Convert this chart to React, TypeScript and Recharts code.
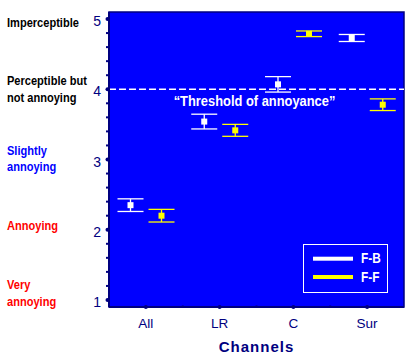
import React from 'react';
import { ComposedChart, Bar, ErrorBar, XAxis, YAxis, CartesianGrid, ReferenceLine, ReferenceArea, Legend } from 'recharts';

const channels = ['All', 'LR', 'C', 'Sur'];
const fbMean = [2.35, 3.54, 4.07, 4.73];
const fbErr = [0.09, 0.105, 0.11, 0.05];
const ffMean = [2.2, 3.415, 4.79, 3.78];
const ffErr = [0.09, 0.085, 0.04, 0.083];
const yTicks = [1, 1.2, 1.4, 1.6, 1.8, 2, 2.2, 2.4, 2.6, 2.8, 3, 3.2, 3.4, 3.6, 3.8, 4, 4.2, 4.4, 4.6, 4.8, 5];
const scaleLabels: Record<number, string[]> = {
  5: ['Imperceptible'],
  4: ['Perceptible but', 'not annoying'],
  3: ['Slightly', 'annoying'],
  2: ['Annoying'],
  1: ['Very', 'annoying'],
};
const seriesNames = ['F-B', 'F-F'];
const thresholdText = '\u201CThreshold of annoyance\u201D';

const data = channels.map((c, i) => ({ channel: c, fb: fbMean[i], fbErr: fbErr[i], ff: ffMean[i], ffErr: ffErr[i] }));

const NAVY = '#000080';
const labelColor: Record<number, string> = { 5: '#000000', 4: '#000000', 3: '#0000ff', 2: '#ff0000', 1: '#ff0000' };
const labelDy: Record<number, number[]> = { 5: [7.7], 4: [-3.8, 12.8], 3: [-5, 11.7], 2: [0], 1: [-10.7, 6] };
const FONT = 'Arial, "Liberation Sans", sans-serif';

const YTick = (props: any) => {
  const { x, y, payload } = props;
  const v = payload.value;
  const isMajor = Math.abs(v - Math.round(v)) < 1e-6;
  if (!isMajor) {
    return <rect x={x - 3} y={y - 1} width={3} height={2} fill={NAVY} />;
  }
  const key = Math.round(v);
  const lines = scaleLabels[key] || [];
  return (
    <g>
      <circle cx={x - 1.5} cy={y} r={2} fill={NAVY} />
      <text x={x - 8} y={y + 7} textAnchor="end" fontFamily={FONT} fontSize={14} fill={NAVY}>{key}</text>
      {lines.map((l, i) => (
        <text key={i} transform={`translate(7, ${y + labelDy[key][i]}) scale(0.82, 1)`} fontFamily={FONT} fontWeight="bold" fontSize={13.5} fill={labelColor[key]}>{l}</text>
      ))}
    </g>
  );
};

const XTick = (props: any) => {
  const { x, y, payload, index } = props;
  const half = payload.offset || 36.9;
  return (
    <g>
      <circle cx={x} cy={y} r={2} fill={NAVY} />
      {index < channels.length - 1 && <rect x={x + half - 1} y={y - 1.5} width={2} height={2} fill={NAVY} />}
      <text x={x} y={y + 20.5} textAnchor="middle" fontFamily={FONT} fontSize={13.5} fill={NAVY}>{payload.value}</text>
    </g>
  );
};

const squareShape = (color: string) => (props: any) => {
  const { x, y, width } = props;
  const cx = x + width / 2;
  return <rect x={cx - 3} y={y - 3} width={6} height={6} fill={color} />;
};

const renderLegend = (props: any) => {
  const payload = props.payload || [];
  return (
    <svg width={86} height={50} style={{ display: 'block' }}>
      <rect x={0.5} y={0.5} width={84} height={48} fill="none" stroke="#ffffff" strokeWidth={1} />
      {payload.map((p: any, i: number) => (
        <g key={i}>
          <rect x={10} y={12.7 + i * 18.3} width={40} height={4} fill={p.color} />
          <text transform={`translate(58, ${18.5 + i * 19.2}) scale(0.82, 1)`} fontFamily={FONT} fontWeight="bold" fontSize={14.5} fill="#ffffff">{p.value}</text>
        </g>
      ))}
    </svg>
  );
};

const ThresholdLabel = (props: any) => {
  const vb = props.viewBox || {};
  return (
    <text transform={`translate(${vb.x + vb.width / 2 - 2}, ${vb.y + 17}) scale(0.86, 1)`} textAnchor="middle" fontFamily={FONT} fontWeight="bold" fontSize={15} fill="#ffffff">{thresholdText}</text>
  );
};

export default function App() {
  return (
    <div style={{ position: 'absolute', left: 0, top: 0, width: 411, height: 359, background: '#ffffff' }}>
      <ComposedChart width={411} height={359} data={data} margin={{ top: 12, right: 7, bottom: 0, left: 0 }} barGap={0}>
        <CartesianGrid horizontal={false} vertical={false} fill="#0000ff" fillOpacity={1} />
        <XAxis
          dataKey="channel"
          height={52}
          tickLine={false}
          tickSize={0}
          tickMargin={0}
          axisLine={{ stroke: NAVY, strokeWidth: 2 }}
          tick={<XTick />}
          interval={0}
          label={{ value: 'Channels', position: 'insideBottom', offset: 7, fill: NAVY, fontFamily: FONT, fontWeight: 'bold', fontSize: 15, letterSpacing: 1 }}
        />
        <YAxis
          type="number"
          domain={[0.9, 5.1]}
          allowDataOverflow
          ticks={yTicks}
          interval={0}
          width={109}
          tickLine={false}
          tickSize={0}
          tickMargin={0}
          axisLine={{ stroke: NAVY, strokeWidth: 2 }}
          tick={<YTick />}
        />
        <ReferenceArea y1={0.9} y2={5.1} fill="none" stroke={NAVY} strokeWidth={1.5} ifOverflow="visible" />
        <ReferenceLine y={4} stroke="#ffffff" strokeWidth={1.5} strokeDasharray="7 3" label={<ThresholdLabel />} />
        <Bar dataKey="fb" name={seriesNames[0]} fill="#ffffff" barSize={31} shape={squareShape('#ffffff')} isAnimationActive={false}>
          <ErrorBar dataKey="fbErr" width={13} stroke="#ffffff" strokeWidth={1.3} direction="y" />
        </Bar>
        <Bar dataKey="ff" name={seriesNames[1]} fill="#ffff00" barSize={31} shape={squareShape('#ffff00')} isAnimationActive={false}>
          <ErrorBar dataKey="ffErr" width={13} stroke="#ffff00" strokeWidth={1.3} direction="y" />
        </Bar>
        <Legend
          layout="horizontal"
          verticalAlign="middle"
          align="center"
          content={renderLegend}
          wrapperStyle={{ position: 'absolute', left: 303, top: 244, width: 86, height: 50 }}
        />
      </ComposedChart>
    </div>
  );
}
